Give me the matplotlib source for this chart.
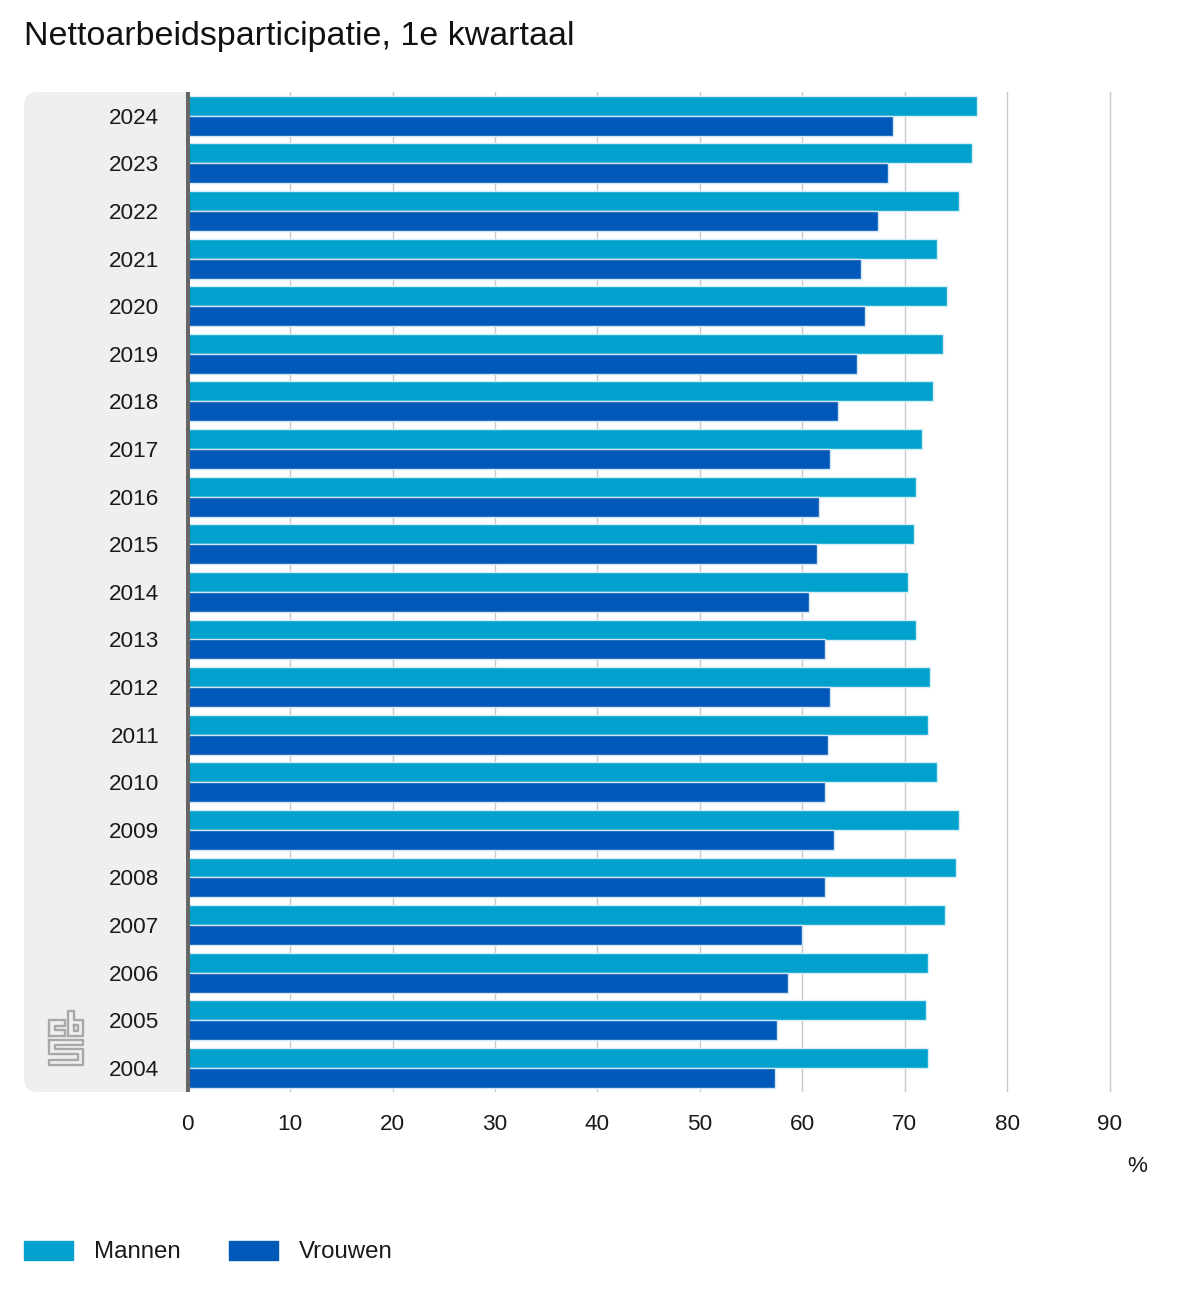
import matplotlib
matplotlib.use("Agg")
import matplotlib.pyplot as plt
from matplotlib.patches import FancyBboxPatch, Patch
from matplotlib.lines import Line2D
from matplotlib.transforms import Affine2D

plt.rcParams['font.family'] = ['Liberation Sans', 'DejaVu Sans']

title = "Nettoarbeidsparticipatie, 1e kwartaal"
years = [2024, 2023, 2022, 2021, 2020, 2019, 2018, 2017, 2016, 2015, 2014,
         2013, 2012, 2011, 2010, 2009, 2008, 2007, 2006, 2005, 2004]
mannen = [77.0, 76.6, 75.3, 73.1, 74.1, 73.7, 72.7, 71.7, 71.1, 70.9, 70.3,
          71.1, 72.5, 72.3, 73.1, 75.3, 75.0, 73.9, 72.3, 72.1, 72.3]
vrouwen = [68.8, 68.4, 67.4, 65.7, 66.1, 65.3, 63.5, 62.7, 61.6, 61.4, 60.6,
           62.2, 62.7, 62.5, 62.2, 63.1, 62.2, 60.0, 58.6, 57.5, 57.3]
xticks = [0, 10, 20, 30, 40, 50, 60, 70, 80, 90]
series_names = ["Mannen", "Vrouwen"]
colors = ["#00a1cd", "#0058b8"]

W, H = 1200, 1300
fig = plt.figure(figsize=(12, 13), dpi=100, facecolor="white")
px = Affine2D().scale(1, -1).translate(0, H)  # pixels, y down

# axes: x=0 at 188 px, x=90 at 1110 px, y band 92..1092 px
x0, x90 = 187.6, 1109.8
xmax = 96
right = x0 + (x90 - x0) / 90 * xmax
ax = fig.add_axes([x0 / W, 1 - 1092 / H, (right - x0) / W, 1000 / H])
band = 47.6
first = 115.9
ax.set_ylim((1092 - first) / band, -(first - 92) / band)
ax.set_xlim(0, xmax)
ax.patch.set_alpha(0)

# grey side panel
panel = FancyBboxPatch((24 + 14, 92 + 14), 162 - 14 + 40, 1000 - 28,
                       boxstyle="round,pad=14,rounding_size=14",
                       transform=px, fc="#efefef", ec="none", zorder=0)
fig.add_artist(panel)
# cover the right overshoot of the panel
fig.add_artist(plt.Rectangle((186, 85), 80, 1015, transform=px, fc="white", ec="none", zorder=0.5))
ax.set_zorder(2)

pos = list(range(len(years)))
h = 20 / band
ax.barh([p - h / 2 for p in pos], mannen, height=h, color=colors[0],
        edgecolor="#d5eef6", linewidth=1, zorder=3, label=series_names[0])
ax.barh([p + h / 2 for p in pos], vrouwen, height=h, color=colors[1],
        edgecolor="#d5e4f3", linewidth=1, zorder=3, label=series_names[1])

ax.set_xticks(xticks)
ax.set_yticks(pos)
ax.set_yticklabels(years)
ax.xaxis.grid(True, color="#c8c8c8", linewidth=1, zorder=1)
ax.set_axisbelow(True)
ax.tick_params(axis="y", length=0, pad=20.4, labelsize=16.2, labelcolor="#1a1a1a")
ax.tick_params(axis="x", length=0, pad=15.5, labelsize=16.2, labelcolor="#1a1a1a")
for s in ["top", "right", "bottom"]:
    ax.spines[s].set_visible(False)
ax.spines["left"].set_color("#666666")
ax.spines["left"].set_linewidth(2.9)
ax.spines["left"].set_capstyle("butt")
ax.spines["left"].set_zorder(4)

fig.text(24 / W, 1 - 37 / H, title, fontsize=24.53, color="#111111", va="center", ha="left")
fig.text(1137 / W, 1 - 1166 / H, "%", fontsize=16.2, color="#1a1a1a", va="center", ha="center")

# legend
leg = fig.legend(handles=[Patch(color=colors[0], label=series_names[0]),
                          Patch(color=colors[1], label=series_names[1])],
                 loc="center left", bbox_to_anchor=(24 / W, 1 - 1252 / H), ncol=2,
                 frameon=False, fontsize=17.3, labelcolor="#1a1a1a",
                 borderpad=0, borderaxespad=0, handlelength=2.06, handleheight=0.85,
                 handletextpad=0.85, columnspacing=2.0)

# CBS logo
logo = [
    [(49, 1036), (49, 1020), (65, 1020), (65, 1026), (55, 1026), (55, 1030), (65, 1030), (65, 1036), (49, 1036)],
    [(68, 1036), (68, 1011), (74, 1011), (74, 1020), (83, 1020), (83, 1036), (68, 1036)],
    [(74, 1025), (78, 1025), (78, 1031), (74, 1031), (74, 1025)],
    [(49, 1040), (83, 1040), (83, 1045), (55, 1045), (55, 1049), (83, 1049), (83, 1065), (49, 1065),
     (49, 1060), (78, 1060), (78, 1054), (49, 1054), (49, 1040)],
]
for path in logo:
    xs, ys = zip(*path)
    fig.add_artist(Line2D(xs, ys, transform=px, color="#a8a8a8", linewidth=1.7, zorder=1))

fig.savefig("out.png", dpi=100, facecolor="white")
